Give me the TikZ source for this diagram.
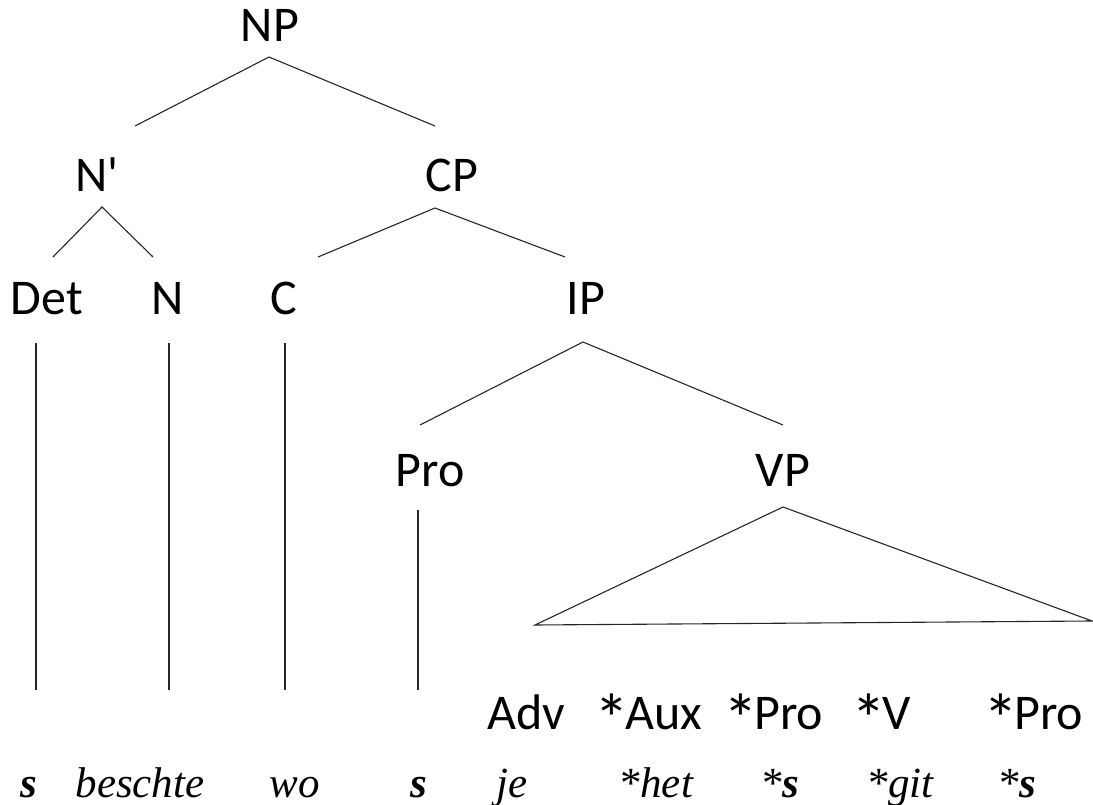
\documentclass[tikz,border=0pt]{standalone}
\usepackage{fontspec}
\usepackage{graphicx}
\newfontfamily\catfont{Carlito}
\newfontfamily\wordfont{Liberation Serif}
\newcommand\catast{\setbox0\hbox{*}\makebox[1.1\wd0][c]{\raisebox{-0.4\ht0}{\scalebox{1.4}{*}}}}
\begin{document}
\begin{tikzpicture}[x=1pt,y=-1pt,
  cat/.style={anchor=base,inner sep=0pt,font=\catfont\fontsize{50}{60}\selectfont},
  word/.style={anchor=base,inner sep=0pt,font=\wordfont\itshape\fontsize{43}{50}\selectfont},
  branch/.style={line width=1.1pt,black!85}]
\useasboundingbox (0,0) rectangle (1093,805);
% category labels
\node[cat] (NP)   at (270,42)  {NP};
\node[cat] (Nbar) at (97,192)  {N\textquotesingle};
\node[cat] (CP)   at (452,192) {CP};
\node[cat] (Det)  at (47,315)  {Det};
\node[cat] (N)    at (168,315) {N};
\node[cat] (C)    at (284,315) {C};
\node[cat] (IP)   at (586,315) {IP};
\node[cat] (Pro)  at (430,486) {Pro};
\node[cat] (VP)   at (783,486) {VP};
\node[cat] (Adv)  at (526,729) {Adv};
\node[cat] (Aux)  at (650,729) {\catast Aux};
\node[cat] (ProB) at (775,729) {\catast Pro};
\node[cat] (V)    at (883,729) {\catast V};
\node[cat] (ProC) at (1035,729) {\catast Pro};
% words
\node[word] (w1) at (29,797)   {\textbf{s}};
\node[word] (w2) at (140,797)  {beschte};
\node[word] (w3) at (295,797)  {wo};
\node[word] (w4) at (419,797)  {\textbf{s}};
\node[word] (w5) at (512,797)  {je};
\node[word] (w6) at (656,797)  {*het};
\node[word] (w7) at (780,797)  {*\textbf{s}};
\node[word] (w8) at (900,797)  {*git};
\node[word] (w9) at (1017,797) {*\textbf{s}};
% branch end points
\coordinate (NPb)   at (269,57);
\coordinate (Nbart) at (135,126);
\coordinate (CPt)   at (435,126);
\coordinate (Nbarb) at (102,207);
\coordinate (Dett)  at (53,257);
\coordinate (Nt)    at (153,257);
\coordinate (CPb)   at (435,208);
\coordinate (Ct)    at (318,257);
\coordinate (IPt)   at (565,257);
\coordinate (Detb)  at (36,343);
\coordinate (w1t)   at (36,690);
\coordinate (Nb)    at (169,343);
\coordinate (w2t)   at (169,690);
\coordinate (Cb)    at (285,343);
\coordinate (w3t)   at (285,690);
\coordinate (IPb)   at (583,342);
\coordinate (Prot)  at (420,425);
\coordinate (VPt)   at (783,425);
\coordinate (Prob)  at (418,510);
\coordinate (w4t)   at (418,690);
\coordinate (VPb)   at (783,507);
\coordinate (triL)  at (535,625);
\coordinate (triR)  at (1092,621);
% branches
\draw[branch] (Nbart) -- (NPb) -- (CPt);
\draw[branch] (Dett) -- (Nbarb) -- (Nt);
\draw[branch] (Ct) -- (CPb) -- (IPt);
\draw[branch] (Prot) -- (IPb) -- (VPt);
\draw[branch] (Detb) -- (w1t);
\draw[branch] (Nb) -- (w2t);
\draw[branch] (Cb) -- (w3t);
\draw[branch] (Prob) -- (w4t);
\draw[branch] (VPb) -- (triR) -- (triL) -- cycle;
\end{tikzpicture}
\end{document}
